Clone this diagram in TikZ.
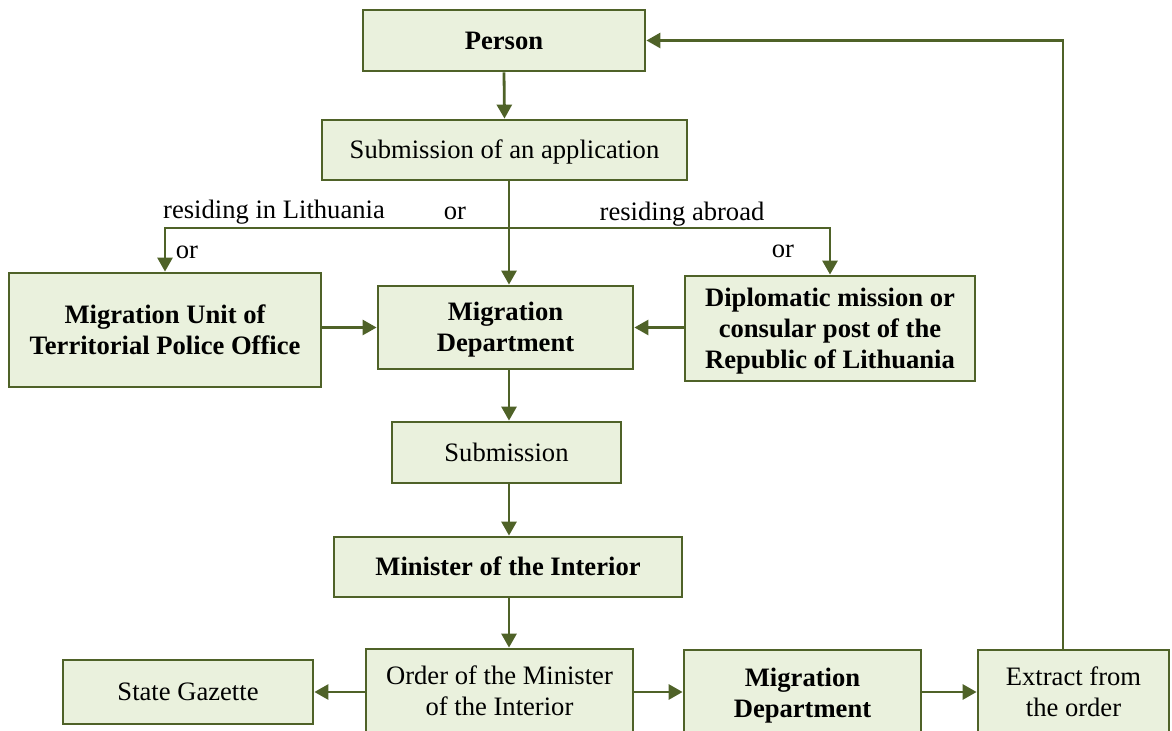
\documentclass[tikz,border=0pt]{standalone}
\usepackage{fontspec}
\setmainfont{Liberation Serif}
\usetikzlibrary{arrows.meta}
\definecolor{boxfill}{HTML}{EAF1DD}
\definecolor{boxline}{HTML}{4F6228}
\tikzset{
  box/.style={draw=boxline, fill=boxfill, line width=1.4pt, align=center, inner sep=0pt,
    font=\fontsize{13.3}{15.5}\selectfont, text height=11.85pt, text depth=2.87pt},
  bbox/.style={box, font=\fontsize{13.3}{15.5}\selectfont\bfseries},
  twolines/.style={text height=27.35pt},
  threelines/.style={text height=42.85pt},
  conn/.style={draw=boxline, line width=1.4pt},
  arr/.style={conn, -{Triangle[length=7pt,width=7.5pt]}},
  lbl/.style={font=\fontsize{13.3}{15.5}\selectfont, inner sep=0pt}
}
\begin{document}
\begin{tikzpicture}[x=0.5pt,y=-0.5pt]
\useasboundingbox (0,0) rectangle (1172,731);
\clip (0,0) rectangle (1172,731);
\node[bbox, minimum width=141pt, minimum height=30.5pt] (person) at (504,40.5) {Person};
\node[box, minimum width=182.5pt, minimum height=30pt] (subapp) at (504.5,150) {Submission of an application};
\node[bbox, twolines, minimum width=156pt, minimum height=57pt] (migunit) at (165,330) {Migration Unit of\\Territorial Police Office};
\node[bbox, twolines, minimum width=127.5pt, minimum height=41.5pt] (migdep) at (505.5,327.5) {Migration\\Department};
\node[bbox, threelines, minimum width=145pt, minimum height=52.5pt] (dipl) at (830,328.5) {Diplomatic mission or\\consular post of the\\Republic of Lithuania};
\node[box, minimum width=114.5pt, minimum height=30.5pt] (subm) at (506.5,452.5) {Submission};
\node[bbox, minimum width=174pt, minimum height=30pt] (minister) at (508,567) {Minister of the Interior};
\node[box, twolines, minimum width=133.5pt, minimum height=42.5pt] (order) at (499.5,691.5) {Order of the Minister\\of the Interior};
\node[box, minimum width=125pt, minimum height=32pt] (gazette) at (188,692) {State Gazette};
\node[bbox, twolines, minimum width=118.5pt, minimum height=43pt] (migdep2) at (802.5,693) {Migration\\Department};
\node[box, twolines, minimum width=95.5pt, minimum height=42.5pt] (extract) at (1073.5,692.5) {Extract from\\the order};

\coordinate (j) at (509,228);
\coordinate (fb) at (1063,40.5);

\node[lbl] (l1) at (274,212) {residing in Lithuania};
\node[lbl] (l2) at (455,213) {or};
\node[lbl] (l3) at (682,214) {residing abroad};
\node[lbl] (l4) at (187,252) {or};
\node[lbl] (l5) at (783,251) {or};

\draw[arr] (person.south) -- (subapp.north);
\draw[conn] (subapp.south -| j) -- (j);
\draw[arr] (j) -- (migdep.north -| j);
\draw[arr] (j) -| (migunit.north);
\draw[arr] (j) -| (dipl.north);
\draw[arr] (migunit.east |- migdep.west) -- (migdep.west);
\draw[arr] (dipl.west |- migdep.east) -- (migdep.east);
\draw[arr] (migdep.south -| j) -- (subm.north -| j);
\draw[arr] (subm.south -| j) -- (minister.north -| j);
\draw[arr] (minister.south -| j) -- (order.north -| j);
\draw[arr] (order.west |- gazette.east) -- (gazette.east);
\draw[arr] (order.east |- gazette.east) -- (migdep2.west |- gazette.east);
\draw[arr] (migdep2.east |- gazette.east) -- (extract.west |- gazette.east);
\draw[arr] (extract.north -| fb) -- (fb) -- (person.east);
\end{tikzpicture}
\end{document}
